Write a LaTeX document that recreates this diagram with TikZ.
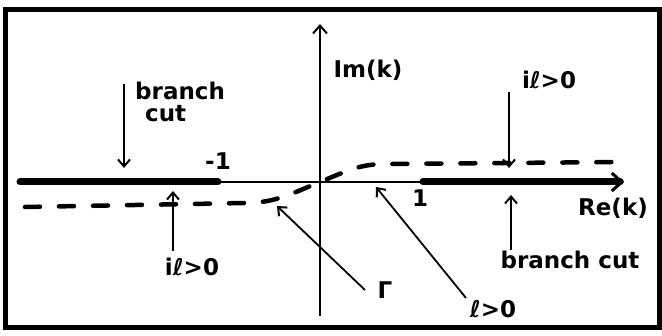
\documentclass[tikz,border=0pt]{standalone}
\usepackage{fontspec}
\setmainfont{DejaVu Sans}
\usetikzlibrary{arrows.meta,positioning}
\tikzset{
  frame/.style={line width=5pt},
  axis/.style={line width=1.8pt},
  cutline/.style={line width=7pt,line cap=round},
  contour/.style={line width=4.5pt,line cap=round,dash pattern=on 15pt off 19pt},
  pointer/.style={-{Straight Barb[length=7pt,width=12pt,line width=2pt]},line width=1.8pt},
  lbl/.style={font=\bfseries\fontsize{23}{22}\selectfont,inner sep=0pt,align=center}
}
\begin{document}
\begin{tikzpicture}[x=1pt,y=-1pt]
\useasboundingbox (0,0) rectangle (662,336);
\draw[frame] (5,10) rectangle (659,328);

% axes and cuts
\coordinate (O) at (320,182);
\coordinate (imtop) at (320,24);
\coordinate (imbot) at (320,316);
\coordinate (cutL) at (20,182);
\coordinate (mone) at (218,182);
\coordinate (one) at (423,182);
\coordinate (retip) at (624,182);
\draw[axis,-{Straight Barb[length=8pt,width=14pt,line width=2pt]}] (imbot) -- (imtop);
\draw[axis] (mone) -- (one);
\draw[cutline] (cutL) -- (mone);
\draw[cutline,-{Straight Barb[length=10pt,width=18pt,line width=3pt]}] (one) -- (retip);

% contour Gamma
\coordinate (gstart) at (25,207);
\coordinate (gbend) at (245,203);
\coordinate (gup) at (385,164);
\coordinate (gend) at (625,162);
\draw[contour] (gstart) -- (gbend) to[out=0,in=202] (O) to[out=22,in=180] (gup) -- (gend);

% labels
\node[lbl] (imlbl) at (368,70) {Im(k)};
\node[lbl] (relbl) at (613,208) {Re(k)};
\node[lbl] (mlbl) at (218,161) {-1};
\node[lbl] (onelbl) at (420,198) {1};
\node[lbl,align=left,anchor=west] (cutleft) at (135,102) {branch\\\hspace*{10pt}cut};
\node[lbl] (cutright) at (570,260) {branch cut};
\node[lbl] (illow) at (192,267) {iℓ>0};
\node[lbl] (ilhigh) at (549,80) {iℓ>0};
\node[lbl] (gamlbl) at (385,290) {Γ};
\node[lbl] (ellpos) at (493,309) {ℓ>0};

% pointers
\coordinate (p1a) at (124,84);  \coordinate (p1b) at (124,168);
\coordinate (p2a) at (173,251); \coordinate (p2b) at (173,191);
\coordinate (p3a) at (365,290); \coordinate (p3b) at (277,206);
\coordinate (p4a) at (466,298); \coordinate (p4b) at (376,187);
\coordinate (p5a) at (511,250); \coordinate (p5b) at (511,195);
\coordinate (p6a) at (509,92);  \coordinate (p6b) at (509,168);
\draw[pointer] (p1a) -- (p1b);
\draw[pointer] (p2a) -- (p2b);
\draw[pointer] (p3a) -- (p3b);
\draw[pointer] (p4a) -- (p4b);
\draw[pointer] (p5a) -- (p5b);
\draw[pointer] (p6a) -- (p6b);
\end{tikzpicture}
\end{document}
